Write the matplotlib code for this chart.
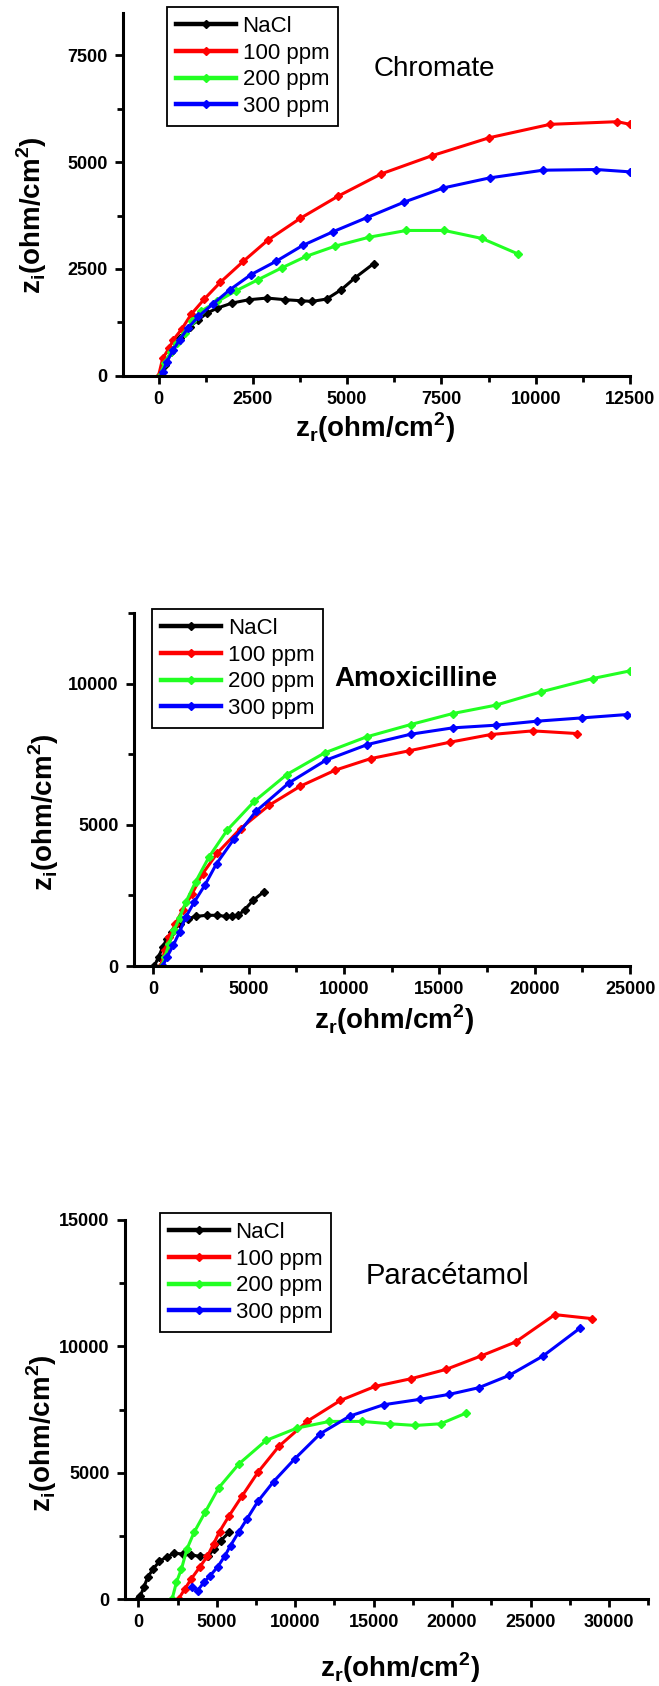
import matplotlib.pyplot as plt
from matplotlib.ticker import MultipleLocator
import numpy as np

plt.rcParams['font.family'] = ['Liberation Sans', 'DejaVu Sans']
plt.rcParams['mathtext.fontset'] = 'custom'
plt.rcParams['mathtext.rm'] = 'Liberation Sans'
plt.rcParams['mathtext.bf'] = 'Liberation Sans:bold'

W, H = 659, 1686

names = ['NaCl', '100 ppm', '200 ppm', '300 ppm']
colors = ['black', '#ff0000', '#22ff22', '#0000ff']

# Chromate
chr_nacl_x = [56, 167, 334, 557, 836, 1058, 1281, 1560, 1950, 2395, 2874, 3365, 3788, 4066, 4456, 4846, 5203, 5704]
chr_nacl_y = [0, 251, 564, 878, 1152, 1309, 1465, 1583, 1701, 1779, 1818, 1779, 1755, 1740, 1795, 2014, 2288, 2625]
chr_100_x = [0, 111, 279, 390, 613, 869, 1214, 1638, 2250, 2897, 3754, 4768, 5905, 7241, 8768, 10383, 12166, 12500]
chr_100_y = [0, 408, 643, 839, 1089, 1442, 1795, 2187, 2680, 3174, 3683, 4208, 4726, 5149, 5572, 5886, 5948, 5886]
chr_200_x = [33, 167, 334, 479, 691, 891, 1114, 1560, 2061, 2640, 3264, 3922, 4679, 5593, 6573, 7576, 8578, 9525]
chr_200_y = [0, 306, 564, 776, 1011, 1270, 1505, 1740, 1991, 2249, 2524, 2798, 3033, 3245, 3401, 3401, 3213, 2853]
chr_300_x = [89, 111, 223, 390, 557, 780, 1058, 1448, 1894, 2451, 3119, 3821, 4623, 5515, 6517, 7553, 8779, 10194,
             11609, 12500]
chr_300_y = [0, 94, 329, 603, 839, 1113, 1387, 1685, 2014, 2367, 2680, 3049, 3370, 3699, 4067, 4397, 4632, 4812,
             4828, 4773]

# Amoxicilline
amx_nacl_x = [66, 286, 507, 727, 1013, 1388, 1828, 2269, 2819, 3326, 3811, 4141, 4471, 4802, 5242, 5793]
amx_nacl_y = [0, 319, 674, 969, 1206, 1501, 1678, 1761, 1797, 1797, 1761, 1761, 1797, 1998, 2329, 2624]
amx_100_x = [396, 617, 837, 1167, 1542, 2048, 2599, 3370, 4581, 6079, 7709, 9537, 11410, 13392, 15551, 17687,
             19890, 22203]
amx_100_y = [0, 556, 1028, 1501, 1974, 2565, 3274, 4007, 4870, 5697, 6371, 6939, 7352, 7624, 7931, 8203, 8333, 8239]
amx_200_x = [463, 617, 837, 1101, 1388, 1718, 2225, 2930, 3877, 5308, 7004, 8987, 11189, 13502, 15705, 17952,
             20330, 23040, 25000]
amx_200_y = [0, 319, 792, 1265, 1714, 2270, 2979, 3865, 4811, 5839, 6785, 7553, 8121, 8558, 8948, 9243, 9716,
             10189, 10461]
amx_300_x = [507, 727, 1057, 1388, 1718, 2159, 2709, 3326, 4251, 5396, 7115, 9053, 11233, 13502, 15705, 17952,
             20110, 22489, 24846]
amx_300_y = [0, 319, 733, 1206, 1738, 2270, 2861, 3629, 4515, 5485, 6489, 7293, 7849, 8215, 8440, 8534, 8676,
             8794, 8913]

# Paracetamol
par_nacl_x = [0, 135, 350, 593, 943, 1348, 1833, 2291, 2830, 3369, 3908, 4447, 4852, 5256, 5795]
par_nacl_y = [0, 132, 462, 859, 1189, 1493, 1678, 1810, 1783, 1744, 1691, 1717, 1981, 2312, 2642]
par_100_x = [2561, 2965, 3369, 3908, 4394, 4798, 5175, 5795, 6604, 7628, 8949, 10782, 12884, 15094, 17385, 19623,
             21833, 24043, 26550, 28922]
par_100_y = [0, 396, 793, 1255, 1691, 2180, 2668, 3303, 4069, 5020, 6037, 7041, 7860, 8415, 8719, 9089, 9617,
             10172, 11255, 11096]
par_200_x = [2156, 2426, 2749, 3100, 3558, 4259, 5121, 6415, 8140, 10108, 12183, 14286, 16038, 17655, 19272, 20889]
par_200_y = [0, 661, 1189, 1982, 2642, 3435, 4399, 5350, 6275, 6764, 7028, 7028, 6935, 6869, 6935, 7358]
par_300_x = [3450, 3774, 4178, 4582, 5067, 5526, 5876, 6388, 6927, 7628, 8625, 9973, 11590, 13477, 15633, 17925,
             19811, 21698, 23639, 25795, 28167]
par_300_y = [462, 330, 660, 925, 1281, 1717, 2114, 2642, 3170, 3871, 4650, 5548, 6539, 7239, 7688, 7900, 8098,
             8362, 8851, 9617, 10727]


def fpos(x, y):
    return x / W, 1 - y / H


def panel(fig, box, xs, ys, xlim, ylim, xstep, ystep, legpos):
    left, top, right, bottom = box
    ax = fig.add_axes([left / W, 1 - bottom / H, (right - left) / W, (bottom - top) / H])
    for x, y, c, n in zip(xs, ys, colors, names):
        ax.plot(x, y, '-', color=c, lw=2.2, marker='D', ms=4.5, label=n)
    ax.set_xlim(*xlim)
    ax.set_ylim(*ylim)
    ax.set_xticks(np.arange(0, xlim[1] + 1, xstep))
    ax.set_yticks(np.arange(0, ylim[1] + 1, ystep))
    ax.xaxis.set_minor_locator(MultipleLocator(xstep / 2))
    ax.yaxis.set_minor_locator(MultipleLocator(ystep / 2))
    for s in ['top', 'right']:
        ax.spines[s].set_visible(False)
    for s in ['left', 'bottom']:
        ax.spines[s].set_linewidth(2.2)
    ax.tick_params(which='major', direction='out', length=6, width=2, labelsize=13, pad=5)
    ax.tick_params(which='minor', direction='out', length=4, width=2)
    for lab in ax.get_xticklabels() + ax.get_yticklabels():
        lab.set_fontweight('bold')
    leg = ax.legend(loc='upper left', bbox_to_anchor=fpos(*legpos), bbox_transform=fig.transFigure,
                    fancybox=False, edgecolor='black', framealpha=1, fontsize=16, handlelength=2.7,
                    handletextpad=0.3, labelspacing=0.25, borderpad=0.4, borderaxespad=0)
    leg.get_frame().set_linewidth(1.3)
    for h in leg.legend_handles:
        h.set_linewidth(3.2)
    return ax


fig = plt.figure(figsize=(W / 100, H / 100), dpi=100)

ylab = r'z$_\mathbf{i}$(ohm/cm$^\mathbf{2}$)'
xlab = r'z$_\mathbf{r}$(ohm/cm$^\mathbf{2}$)'

panel(fig, (122.7, 12.7, 630, 375.7),
      [chr_nacl_x, chr_100_x, chr_200_x, chr_300_x], [chr_nacl_y, chr_100_y, chr_200_y, chr_300_y],
      (-950, 12500), (0, 8500), 2500, 2500, (167, 7.3))
fig.text(*fpos(434, 69), 'Chromate', fontsize=20, ha='center', va='center')
fig.text(*fpos(32, 215), ylab, fontsize=20, fontweight='bold', rotation=90, ha='center', va='center')
fig.text(*fpos(375, 428), xlab, fontsize=20, fontweight='bold', ha='center', va='center')

panel(fig, (134, 613.3, 630.2, 966),
      [amx_nacl_x, amx_100_x, amx_200_x, amx_300_x], [amx_nacl_y, amx_100_y, amx_200_y, amx_300_y],
      (-1000, 25000), (0, 12500), 5000, 5000, (152.3, 609.3))
fig.text(*fpos(416, 679), 'Amoxicilline', fontsize=20, fontweight='bold', ha='center', va='center')
fig.text(*fpos(44, 812), ylab, fontsize=20, fontweight='bold', rotation=90, ha='center', va='center')
fig.text(*fpos(394, 1020), xlab, fontsize=20, fontweight='bold', ha='center', va='center')

panel(fig, (125, 1220, 648.2, 1599),
      [par_nacl_x, par_100_x, par_200_x, par_300_x], [par_nacl_y, par_100_y, par_200_y, par_300_y],
      (-850, 32500), (0, 15000), 5000, 5000, (160, 1213.3))
fig.text(*fpos(448, 1276), 'Paracétamol', fontsize=21, ha='center', va='center')
fig.text(*fpos(42, 1433), ylab, fontsize=20, fontweight='bold', rotation=90, ha='center', va='center')
fig.text(*fpos(400, 1668), xlab, fontsize=20, fontweight='bold', ha='center', va='center')

fig.savefig('out.png', dpi=100)
